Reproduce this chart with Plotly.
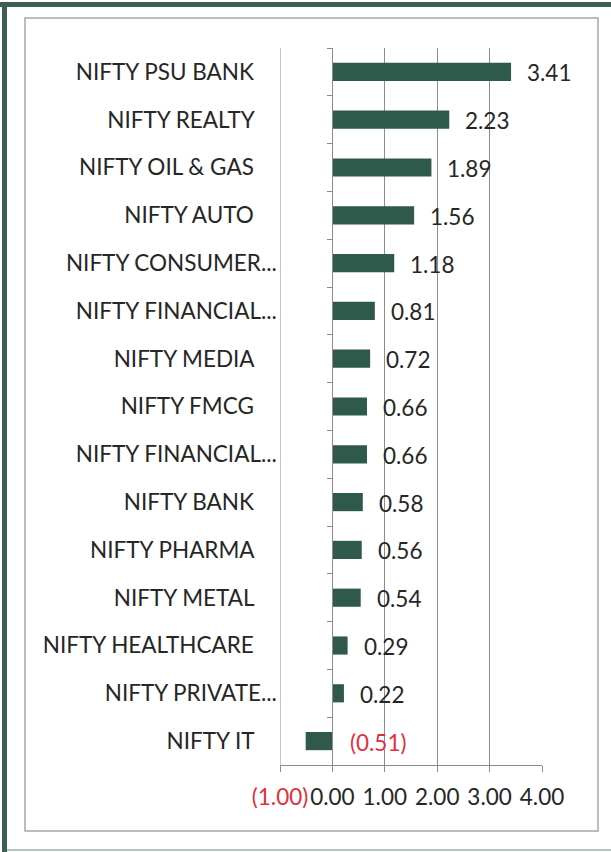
import plotly.graph_objects as go

categories = ["NIFTY PSU BANK", "NIFTY REALTY", "NIFTY OIL & GAS", "NIFTY AUTO",
              "NIFTY CONSUMER...", "NIFTY FINANCIAL...", "NIFTY MEDIA", "NIFTY FMCG",
              "NIFTY FINANCIAL... ", "NIFTY BANK", "NIFTY PHARMA", "NIFTY METAL",
              "NIFTY HEALTHCARE", "NIFTY PRIVATE...", "NIFTY IT"]
values = [3.41, 2.23, 1.89, 1.56, 1.18, 0.81, 0.72, 0.66, 0.66, 0.58, 0.56, 0.54, 0.29, 0.22, -0.51]
x_ticks = [-1, 0, 1, 2, 3, 4]

W, H = 611, 852
PX0, PX1, PY0, PY1 = 280, 542, 48, 765
FONT = "Lato"
BAR = "#2F5A4B"
TXT = "#262626"
RED = "#E0303C"
GRID = "#8C8C8C"
FS = 22.5


def px(x):
    return (x - PX0) / (PX1 - PX0)


def py(y):
    return (PY1 - y) / (PY1 - PY0)


def fmt(v):
    return f"({abs(v):.2f})" if v < 0 else f"{v:.2f}"


def tick_label(t):
    s = fmt(t)
    return f"<span style='color:{RED}'>{s}</span>" if t < 0 else s


def cat_label(c):
    # truncated (ellipsis) labels sit closer to the axis than full ones
    return c.strip() if c.strip().endswith("...") else c + "\u00a0" * 4


fig = go.Figure()
fig.add_trace(go.Bar(
    x=values, y=categories, orientation="h",
    marker=dict(color=BAR, line=dict(width=0)),
    width=0.38, hoverinfo="skip",
))

annotations = []
for c, v in zip(categories, values):
    annotations.append(dict(
        x=max(v, 0), y=c, xref="x", yref="y", text=fmt(v),
        showarrow=False, xanchor="left", yanchor="middle",
        xshift=14 if v >= 0 else 16, yshift=-1,
        font=dict(family=FONT, size=FS, color=RED if v < 0 else TXT),
    ))

shapes = [
    dict(type="rect", xref="paper", yref="paper", x0=px(25), x1=px(598), y0=py(831), y1=py(18),
         line=dict(color="#A8A8A8", width=1.5), fillcolor="rgba(0,0,0,0)", layer="below"),
    dict(type="rect", xref="paper", yref="paper", x0=px(0), x1=px(611), y0=py(7), y1=py(2),
         line=dict(width=0), fillcolor="#3C5F54"),
    dict(type="rect", xref="paper", yref="paper", x0=px(2), x1=px(7), y0=py(852), y1=py(2),
         line=dict(width=0), fillcolor="#3C5F54"),
    dict(type="line", xref="paper", yref="paper", x0=px(7), x1=px(611), y0=py(850), y1=py(850),
         line=dict(color="#B5C4BF", width=2)),
    dict(type="line", xref="x", yref="paper", x0=x_ticks[0], x1=x_ticks[0], y0=0, y1=1,
         line=dict(color=GRID, width=1), layer="below"),
]

fig.update_layout(
    width=W, height=H,
    margin=dict(l=PX0, r=W - PX1, t=PY0, b=H - PY1, pad=0),
    paper_bgcolor="white", plot_bgcolor="white",
    showlegend=False,
    bargap=0.62,
    annotations=annotations,
    shapes=shapes,
    font=dict(family=FONT, color=TXT),
    xaxis=dict(
        range=[-1, 4], tickvals=x_ticks, ticktext=[tick_label(t) for t in x_ticks],
        tickangle=0, ticklabelstandoff=6,
        showgrid=True, gridcolor=GRID, gridwidth=1,
        zeroline=False, showline=True, linecolor=GRID, linewidth=1,
        ticks="outside", ticklen=6, tickcolor=GRID,
        tickfont=dict(family=FONT, size=FS, color=TXT),
        fixedrange=True,
    ),
    yaxis=dict(
        categoryorder="array", categoryarray=categories, autorange="reversed",
        tickvals=categories, ticktext=[cat_label(c) for c in categories],
        anchor="free", position=0.2,
        showline=True, linecolor=GRID, linewidth=1,
        ticks="outside", ticklen=5, tickcolor=GRID, tickson="boundaries",
        showgrid=False, zeroline=False,
        ticklabelstandoff=51,
        tickfont=dict(family=FONT, size=FS, color=TXT),
        fixedrange=True,
    ),
)

fig.write_html(
    "out.html",
    config={"displayModeBar": False},
    post_script="document.body.style.margin='0';document.body.style.overflow='hidden';",
)
